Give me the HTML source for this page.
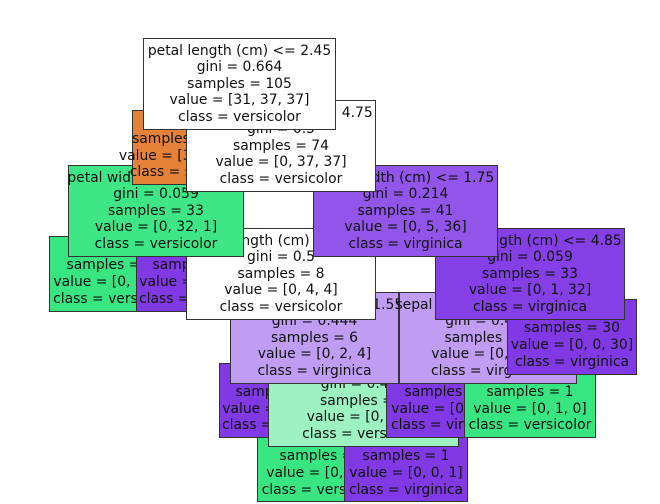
<!DOCTYPE html>
<html><head><meta charset="utf-8">
<style>
html,body{margin:0;padding:0;background:#fff;}
body{width:660px;height:504px;position:relative;overflow:hidden;}
.b{position:absolute;box-sizing:border-box;border:1.3px solid #333;display:flex;flex-direction:column;justify-content:center;align-items:center;
font-family:"DejaVu Sans","Liberation Sans",sans-serif;font-size:13.9px;line-height:16.6px;color:#111;white-space:nowrap;}
.w{background:#fff}.g{background:#39e581}.g2{background:#3fe685}.p{background:#8139e5}.p41{background:#9255e9}.p33{background:#853fe6}
.lp{background:#c09cf2}.lg{background:#9cf2c0}.o{background:#e58139}
</style></head><body>
<div class="b g" style="left:257px;top:428px;width:132px;height:74px"><div>gini = 0.0</div><div>samples = 2</div><div>value = [0, 2, 0]</div><div>class = versicolor</div></div>
<div class="b p" style="left:344px;top:428px;width:124px;height:74px"><div>gini = 0.0</div><div>samples = 1</div><div>value = [0, 0, 1]</div><div>class = virginica</div></div>
<div class="b p" style="left:219px;top:363px;width:120px;height:75px"><div>gini = 0.0</div><div>samples = 3</div><div>value = [0, 0, 3]</div><div>class = virginica</div></div>
<div class="b lg" style="left:268px;top:355px;width:191px;height:92px"><div>sepal width (cm) &lt;= 3.1</div><div>gini = 0.444</div><div>samples = 3</div><div>value = [0, 2, 1]</div><div>class = versicolor</div></div>
<div class="b p" style="left:386px;top:363px;width:124px;height:75px"><div>gini = 0.0</div><div>samples = 2</div><div>value = [0, 0, 2]</div><div>class = virginica</div></div>
<div class="b g" style="left:464px;top:363px;width:132px;height:75px"><div>gini = 0.0</div><div>samples = 1</div><div>value = [0, 1, 0]</div><div>class = versicolor</div></div>
<div class="b lp" style="left:230px;top:292px;width:169px;height:92px"><div>petal width (cm) &lt;= 1.55</div><div>gini = 0.444</div><div>samples = 6</div><div>value = [0, 2, 4]</div><div>class = virginica</div></div>
<div class="b lp" style="left:399px;top:292px;width:178px;height:92px"><div>sepal length (cm) &lt;= 6.95</div><div>gini = 0.444</div><div>samples = 3</div><div>value = [0, 1, 2]</div><div>class = virginica</div></div>
<div class="b p" style="left:507px;top:299px;width:130px;height:76px"><div>gini = 0.0</div><div>samples = 30</div><div>value = [0, 0, 30]</div><div>class = virginica</div></div>
<div class="b p33" style="left:435px;top:228px;width:190px;height:92px"><div>petal length (cm) &lt;= 4.85</div><div>gini = 0.059</div><div>samples = 33</div><div>value = [0, 1, 32]</div><div>class = virginica</div></div>
<div class="b g" style="left:49px;top:236px;width:131px;height:76px"><div>gini = 0.0</div><div>samples = 32</div><div>value = [0, 32, 0]</div><div>class = versicolor</div></div>
<div class="b p" style="left:136px;top:236px;width:120px;height:76px"><div>gini = 0.0</div><div>samples = 1</div><div>value = [0, 0, 1]</div><div>class = virginica</div></div>
<div class="b w" style="left:186px;top:228px;width:190px;height:92px"><div>petal length (cm) &lt;= 4.95</div><div>gini = 0.5</div><div>samples = 8</div><div>value = [0, 4, 4]</div><div>class = versicolor</div></div>
<div class="b p41" style="left:313px;top:165px;width:185px;height:92px"><div>petal width (cm) &lt;= 1.75</div><div>gini = 0.214</div><div>samples = 41</div><div>value = [0, 5, 36]</div><div>class = virginica</div></div>
<div class="b g2" style="left:68px;top:165px;width:176px;height:92px"><div>petal width (cm) &lt;= 1.65</div><div>gini = 0.059</div><div>samples = 33</div><div>value = [0, 32, 1]</div><div>class = versicolor</div></div>
<div class="b o" style="left:132px;top:110px;width:96px;height:75px"><div>gini = 0.0</div><div>samples = 31</div><div>value = [31, 0, 0]</div><div>class = setosa</div></div>
<div class="b w" style="left:186px;top:100px;width:190px;height:92px"><div>petal length (cm) &lt;= 4.75</div><div>gini = 0.5</div><div>samples = 74</div><div>value = [0, 37, 37]</div><div>class = versicolor</div></div>
<div class="b w" style="left:143px;top:38px;width:193px;height:92px"><div>petal length (cm) &lt;= 2.45</div><div>gini = 0.664</div><div>samples = 105</div><div>value = [31, 37, 37]</div><div>class = versicolor</div></div>
</body></html>
